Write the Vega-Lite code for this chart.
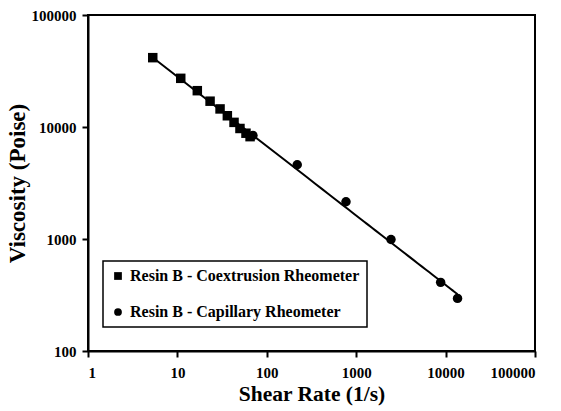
{
  "$schema": "https://vega.github.io/schema/vega-lite/v6.json",
  "autosize": "none",
  "width": 447,
  "height": 336,
  "padding": {"left": 88, "top": 15, "right": 26, "bottom": 60},
  "background": "white",
  "config": {
    "font": "'Liberation Serif', serif",
    "view": {"stroke": "black", "strokeWidth": 2},
    "legend": {"strokeWidth": 1.5},
    "axis": {
      "labelFont": "'Liberation Serif', serif",
      "labelFontWeight": "bold",
      "labelFontSize": 15,
      "labelColor": "black",
      "titleFont": "'Liberation Serif', serif",
      "titleFontWeight": "bold",
      "titleColor": "black",
      "domainColor": "black",
      "domainWidth": 2,
      "tickColor": "black",
      "tickWidth": 2,
      "tickSize": 6,
      "grid": false
    }
  },
  "datasets": {
    "points": [
      {"rate": 5.3, "visc": 41600, "series": "Resin B - Coextrusion Rheometer"},
      {"rate": 10.9, "visc": 27200, "series": "Resin B - Coextrusion Rheometer"},
      {"rate": 16.7, "visc": 21100, "series": "Resin B - Coextrusion Rheometer"},
      {"rate": 23.2, "visc": 17000, "series": "Resin B - Coextrusion Rheometer"},
      {"rate": 30.0, "visc": 14500, "series": "Resin B - Coextrusion Rheometer"},
      {"rate": 36.2, "visc": 12600, "series": "Resin B - Coextrusion Rheometer"},
      {"rate": 43.0, "visc": 11000, "series": "Resin B - Coextrusion Rheometer"},
      {"rate": 50.1, "visc": 9700, "series": "Resin B - Coextrusion Rheometer"},
      {"rate": 58.5, "visc": 8800, "series": "Resin B - Coextrusion Rheometer"},
      {"rate": 65.0, "visc": 8200, "series": "Resin B - Coextrusion Rheometer"},
      {"rate": 70.0, "visc": 8400, "series": "Resin B - Capillary Rheometer"},
      {"rate": 219, "visc": 4600, "series": "Resin B - Capillary Rheometer"},
      {"rate": 769, "visc": 2150, "series": "Resin B - Capillary Rheometer"},
      {"rate": 2450, "visc": 990, "series": "Resin B - Capillary Rheometer"},
      {"rate": 8800, "visc": 410, "series": "Resin B - Capillary Rheometer"},
      {"rate": 13600, "visc": 295, "series": "Resin B - Capillary Rheometer"}
    ]
  },
  "layer": [
    {
      "data": {"name": "points"},
      "transform": [{"regression": "visc", "on": "rate", "method": "pow"}],
      "mark": {"type": "line", "color": "black", "strokeWidth": 2},
      "encoding": {
        "x": {"field": "rate", "type": "quantitative"},
        "y": {"field": "visc", "type": "quantitative"}
      }
    },
    {
      "data": {"name": "points"},
      "mark": {"type": "point", "filled": true, "opacity": 1},
      "encoding": {
        "x": {
          "field": "rate", "type": "quantitative",
          "scale": {"type": "log", "domain": [1, 100000], "nice": false},
          "axis": {"values": [1, 10, 100, 1000, 10000, 100000], "format": "d", "title": "Shear Rate (1/s)", "titleFontSize": 21.5, "labelPadding": 8, "titlePadding": 3}
        },
        "y": {
          "field": "visc", "type": "quantitative",
          "scale": {"type": "log", "domain": [100, 100000], "nice": false},
          "axis": {"values": [100, 1000, 10000, 100000], "format": "d", "title": "Viscosity (Poise)", "titleFontSize": 23, "labelPadding": 6, "titlePadding": 2}
        },
        "shape": {
          "field": "series", "type": "nominal",
          "scale": {"domain": ["Resin B - Coextrusion Rheometer", "Resin B - Capillary Rheometer"], "range": ["square", "circle"]},
          "legend": {
            "title": null,
            "orient": "none",
            "legendX": 15,
            "legendY": 246,
            "padding": 7,
            "strokeColor": "black",
            "fillColor": "white",
            "rowPadding": 20,
            "labelFont": "'Liberation Serif', serif",
            "labelFontWeight": "bold",
            "labelFontSize": 16,
            "labelLimit": 400,
            "labelColor": "black",
            "symbolFillColor": "black",
            "symbolStrokeColor": "black",
            "symbolSize": 60,
            "symbolOffset": 0,
            "labelOffset": 4
          }
        },
        "color": {"value": "black"},
        "size": {"value": 90}
      }
    }
  ]
}
